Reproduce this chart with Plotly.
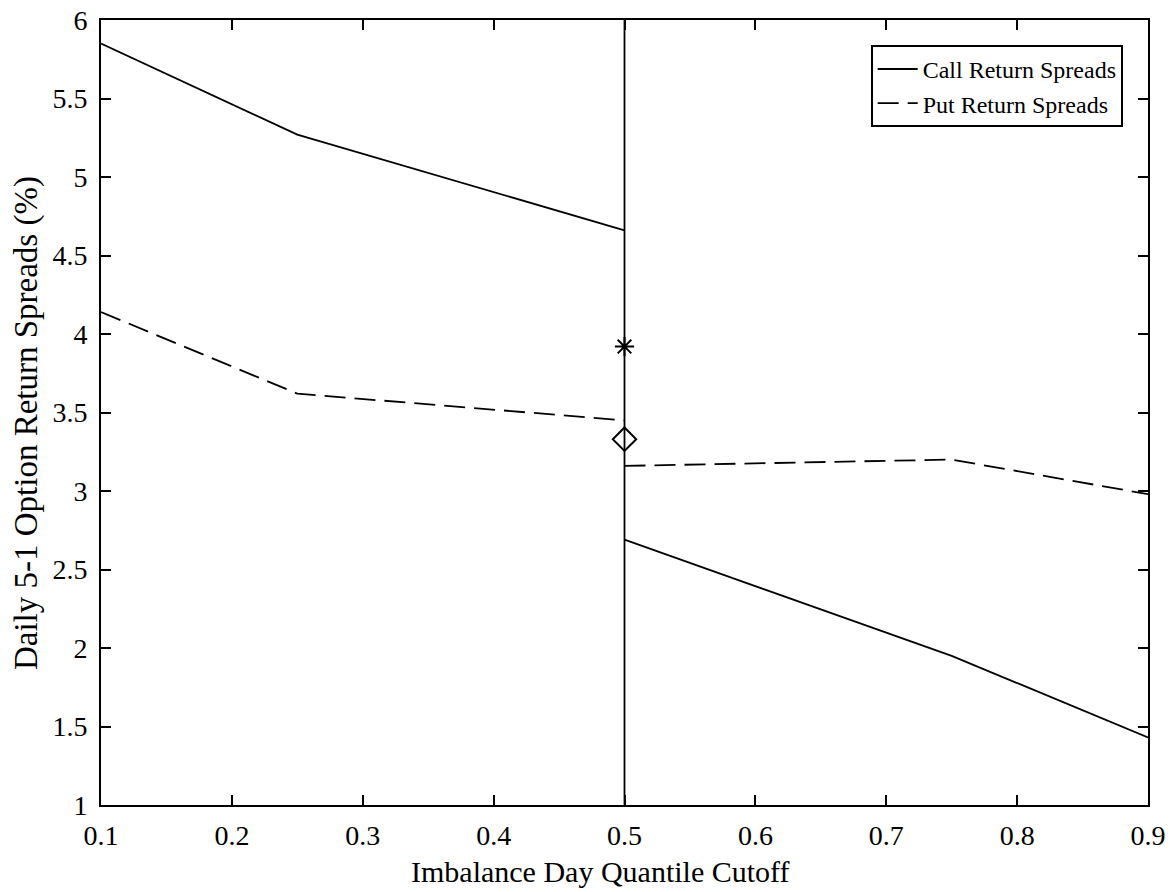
import plotly.graph_objects as go

# Data
call_x_left = [0.1, 0.25, 0.5]
call_y_left = [5.85, 5.27, 4.66]
call_x_right = [0.5, 0.75, 0.9]
call_y_right = [2.69, 1.95, 1.43]

put_x_left = [0.1, 0.25, 0.5]
put_y_left = [4.14, 3.62, 3.45]
put_x_right = [0.5, 0.75, 0.9]
put_y_right = [3.16, 3.20, 2.98]

cutoff_x = [0.5, 0.5]
cutoff_y = [1, 6]

star_x = [0.5]
star_y = [3.92]
diamond_x = [0.5]
diamond_y = [3.33]

x_ticks = [0.1, 0.2, 0.3, 0.4, 0.5, 0.6, 0.7, 0.8, 0.9]
x_tick_labels = ["0.1", "0.2", "0.3", "0.4", "0.5", "0.6", "0.7", "0.8", "0.9"]
y_ticks = [1, 1.5, 2, 2.5, 3, 3.5, 4, 4.5, 5, 5.5, 6]
y_tick_labels = ["1", "1.5", "2", "2.5", "3", "3.5", "4", "4.5", "5", "5.5", "6"]

x_title = "Imbalance Day Quantile Cutoff"
y_title = "Daily 5-1 Option Return Spreads (%)"

FONT = "Liberation Serif, Times New Roman, serif"
LW = 1.8
dash_style = "21px,9px"

fig = go.Figure()
fig.add_trace(go.Scatter(x=call_x_left, y=call_y_left, mode="lines",
                         line=dict(color="black", width=LW),
                         name="Call Return Spreads", legendrank=1))
fig.add_trace(go.Scatter(x=put_x_left, y=put_y_left, mode="lines",
                         line=dict(color="black", width=LW, dash=dash_style),
                         name="Put Return Spreads", legendrank=2))
fig.add_trace(go.Scatter(x=call_x_right, y=call_y_right, mode="lines",
                         line=dict(color="black", width=LW), showlegend=False))
fig.add_trace(go.Scatter(x=put_x_right, y=put_y_right, mode="lines",
                         line=dict(color="black", width=LW, dash=dash_style),
                         showlegend=False))
fig.add_trace(go.Scatter(x=cutoff_x, y=cutoff_y, mode="lines",
                         line=dict(color="black", width=LW), showlegend=False))
fig.add_trace(go.Scatter(x=star_x, y=star_y, mode="markers",
                         marker=dict(symbol="asterisk-open", size=16, color="black",
                                     line=dict(color="black", width=2)),
                         showlegend=False))
fig.add_trace(go.Scatter(x=diamond_x, y=diamond_y, mode="markers",
                         marker=dict(symbol="diamond-open", size=18, color="black",
                                     line=dict(color="black", width=2)),
                         showlegend=False))

axis_common = dict(
    showgrid=False, zeroline=False, showline=True, linecolor="black", linewidth=1.8,
    mirror="allticks", ticks="inside", ticklen=10, tickwidth=1.8, tickcolor="black",
    tickfont=dict(family=FONT, size=28, color="black"),
    automargin=False, ticklabeloverflow="allow",
)

fig.update_xaxes(range=[0.1, 0.9], tickvals=x_ticks, ticktext=x_tick_labels,
                 ticklabelstandoff=4, **axis_common)
fig.update_yaxes(range=[1, 6], tickvals=y_ticks, ticktext=y_tick_labels,
                 ticklabelstandoff=6, **axis_common)

fig.add_annotation(text=x_title, xref="paper", yref="paper", x=0.4766, y=0,
                   xanchor="center", yanchor="top", yshift=-48, showarrow=False,
                   font=dict(family=FONT, size=30, color="black"))
fig.add_annotation(text=y_title, xref="paper", yref="paper", x=-0.0716, y=0.4866,
                   xanchor="center", yanchor="middle", textangle=-90, showarrow=False,
                   font=dict(family=FONT, size=33, color="black"))

fig.update_layout(
    width=1170, height=892,
    margin=dict(l=101, r=22, t=20, b=87),
    plot_bgcolor="white", paper_bgcolor="white",
    font=dict(family=FONT, color="black"),
    legend=dict(x=0.976, y=0.968, xanchor="right", yanchor="top",
                bgcolor="white", bordercolor="black", borderwidth=1.8,
                font=dict(family=FONT, size=24, color="black"),
                itemwidth=40),
    showlegend=True,
)

fig.write_html("out.html",
               config={"displayModeBar": False},
               post_script="document.body.style.margin='0';document.body.style.overflow='hidden';")
